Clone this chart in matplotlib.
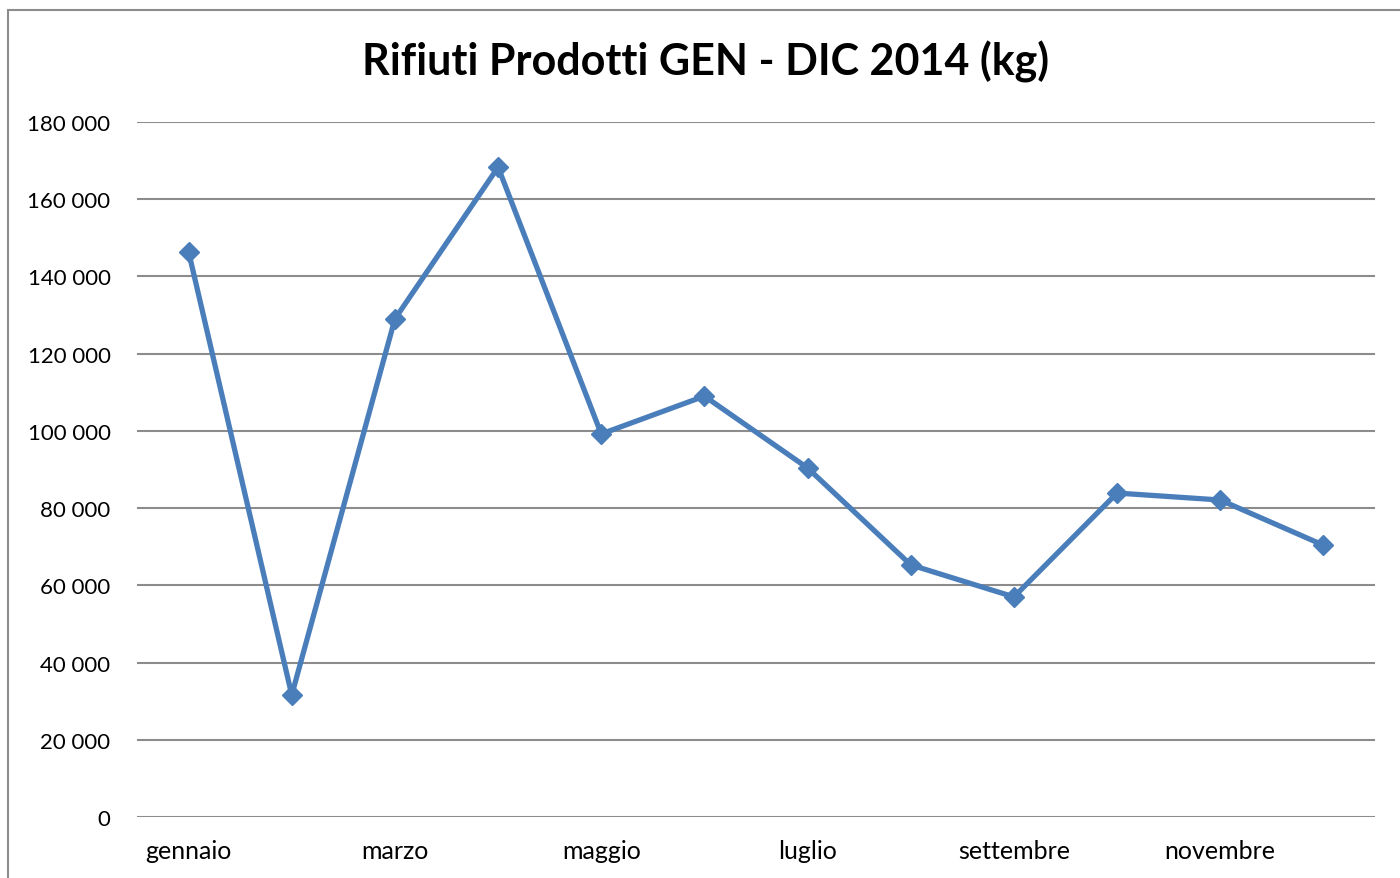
import matplotlib
matplotlib.use("Agg")
import matplotlib.pyplot as plt
from matplotlib.patches import Rectangle

plt.rcParams['font.family'] = ['Lato', 'DejaVu Sans']

mesi = ['gennaio', 'febbraio', 'marzo', 'aprile', 'maggio', 'giugno',
        'luglio', 'agosto', 'settembre', 'ottobre', 'novembre', 'dicembre']
rifiuti_kg = [146400, 31600, 129000, 168300, 99200, 109000,
              90400, 65300, 57000, 83900, 82100, 70400]
y_ticks = [0, 20000, 40000, 60000, 80000, 100000, 120000, 140000, 160000, 180000]

fig = plt.figure(figsize=(14, 8.79), dpi=100)
W, H = 1400, 879

# cornice del grafico (tagliata a destra e in basso)
fig.patches.append(Rectangle((8 / W, -0.05), 1.1, 1 - 11 / H + 0.05,
                             transform=fig.transFigure, fill=False,
                             edgecolor='#8c8c8c', linewidth=1.5))

ax = fig.add_axes([137 / W, 1 - 818 / H, (1375 - 137) / W, (818 - 123) / H])

x = list(range(len(mesi)))
ax.plot(x, rifiuti_kg, color='#4A7EBB', linewidth=3.8, marker='D',
        markersize=10, solid_joinstyle='miter', zorder=3)

ax.set_xlim(-0.5, len(mesi) - 0.5)
ax.set_ylim(0, 180000)
ax.set_yticks(y_ticks)
ax.set_yticklabels([f'{v:,}'.replace(',', ' ') for v in y_ticks], fontsize=16)
ax.set_xticks(x[::2])
ax.set_xticklabels(mesi[::2], fontsize=18)
ax.tick_params(axis='both', length=0)
ax.tick_params(axis='y', pad=19)
ax.tick_params(axis='x', pad=16)

ax.grid(axis='y', color='#8c8c8c', linewidth=1.5)
ax.set_axisbelow(True)
for s in ax.spines.values():
    s.set_visible(False)

fig.text(706 / W, 1 - 62 / H, 'Rifiuti Prodotti GEN - DIC 2014 (kg)',
         ha='center', va='center', fontsize=31, fontweight='bold')

fig.savefig('out.png', dpi=100)
